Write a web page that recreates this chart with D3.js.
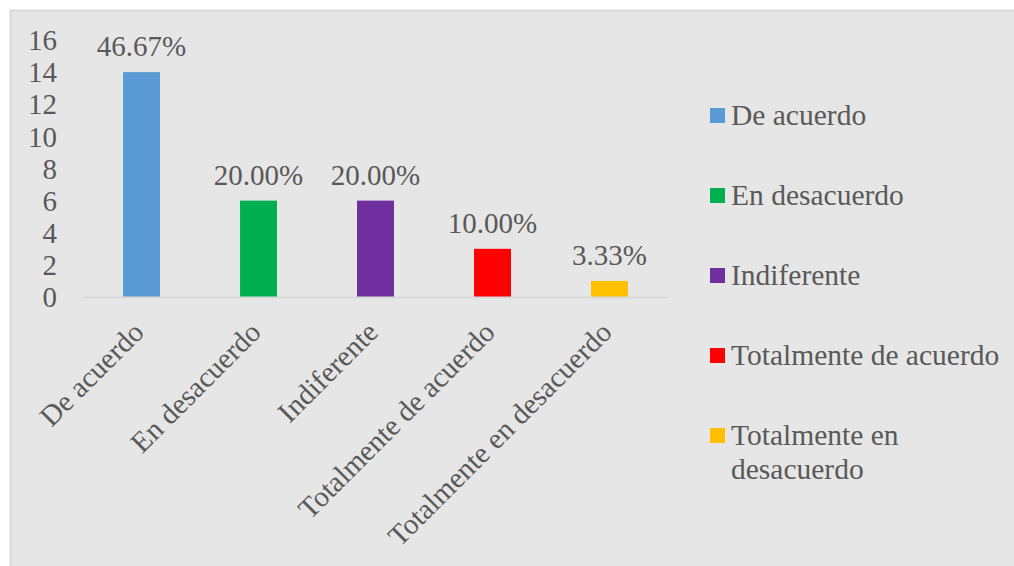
<!DOCTYPE html>
<html>
<head>
<meta charset="utf-8">
<script src="https://cdn.jsdelivr.net/npm/d3@7"></script>
<style>
  body { margin: 0; background: #ffffff; }
  svg text { font-family: "Liberation Serif", "Times New Roman", serif; fill: #595959; }
</style>
</head>
<body>
<div id="chart"></div>
<script>
// chart data
const categories = ["De acuerdo", "En desacuerdo", "Indiferente", "Totalmente de acuerdo", "Totalmente en desacuerdo"];
const counts = [14, 6, 6, 3, 1];
const percentLabels = ["46.67%", "20.00%", "20.00%", "10.00%", "3.33%"];
const colors = ["#5b9bd5", "#00b050", "#7030a0", "#ff0000", "#ffc000"];
const legendLines = [["De acuerdo"], ["En desacuerdo"], ["Indiferente"], ["Totalmente de acuerdo"], ["Totalmente en", "desacuerdo"]];
const yTicks = [0, 2, 4, 6, 8, 10, 12, 14, 16];

const width = 1014, height = 566;
const fontSize = 29;
const legendFontSize = 29.5;

const svg = d3.select("#chart").append("svg")
    .attr("width", width).attr("height", height);

// chart area background
svg.append("rect")
    .attr("x", 10.5).attr("y", 10.5)
    .attr("width", width).attr("height", height)
    .attr("fill", "#e7e6e6")
    .attr("stroke", "#d9d9d9").attr("stroke-width", 2);

// scales
const x = d3.scaleBand()
    .domain(categories)
    .range([83, 668])
    .paddingInner(0.684)
    .paddingOuter(0.342);

const y = d3.scaleLinear().domain([0, 16]).range([297, 40]);

// y tick labels (no axis line)
svg.append("g").selectAll("text")
    .data(yTicks).enter()
    .append("text")
    .attr("x", 57)
    .attr("y", d => y(d))
    .attr("dy", "0.35em")
    .attr("text-anchor", "end")
    .style("font-size", fontSize + "px")
    .text(d => d);

// bars
svg.append("g").selectAll("rect")
    .data(categories).enter()
    .append("rect")
    .attr("x", d => x(d))
    .attr("y", (d, i) => y(counts[i]))
    .attr("width", x.bandwidth())
    .attr("height", (d, i) => y(0) - y(counts[i]))
    .attr("fill", (d, i) => colors[i]);

// baseline
svg.append("line")
    .attr("x1", 83).attr("x2", 668)
    .attr("y1", y(0) + 0.5).attr("y2", y(0) + 0.5)
    .attr("stroke", "#d9d9d9").attr("stroke-width", 2);

// value labels
svg.append("g").selectAll("text")
    .data(categories).enter()
    .append("text")
    .attr("x", d => x(d) + x.bandwidth() / 2)
    .attr("y", (d, i) => y(counts[i]) - 16)
    .attr("text-anchor", "middle")
    .style("font-size", fontSize + "px")
    .text((d, i) => percentLabels[i]);

// rotated category labels
svg.append("g").selectAll("text")
    .data(categories).enter()
    .append("text")
    .attr("transform", d => `translate(${x(d) + x.bandwidth() / 2 + 4},334) rotate(-45)`)
    .attr("text-anchor", "end")
    .style("font-size", fontSize + "px")
    .text(d => d);

// legend
const legend = svg.append("g").selectAll("g")
    .data(legendLines).enter()
    .append("g")
    .attr("transform", (d, i) => `translate(710,${125 + i * 80})`);

legend.append("rect")
    .attr("x", 0).attr("y", -17)
    .attr("width", 15).attr("height", 15)
    .attr("fill", (d, i) => colors[i]);

legend.append("text")
    .attr("x", 21)
    .style("font-size", legendFontSize + "px")
    .selectAll("tspan")
    .data(d => d).enter()
    .append("tspan")
    .attr("x", 21)
    .attr("y", (d, j) => j * 34)
    .text(d => d);
</script>
</body>
</html>
